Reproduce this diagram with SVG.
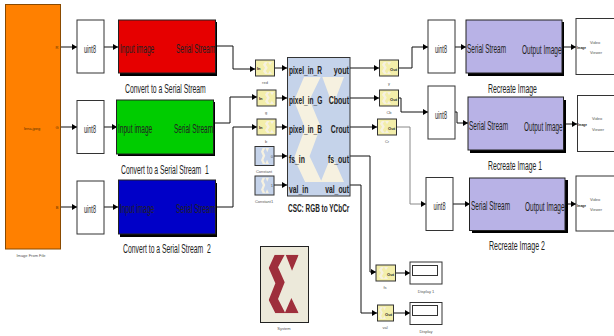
<svg xmlns="http://www.w3.org/2000/svg" width="614" height="336" viewBox="0 0 614 336">
<defs>
<marker id="a" markerWidth="6" markerHeight="6" refX="5" refY="3" orient="auto" markerUnits="userSpaceOnUse"><path d="M0 0L5 3L0 6Z" fill="#000"/></marker>
<symbol id="sig" viewBox="32 32 90 176" preserveAspectRatio="none"><path d="M32 72L50 32H80L60 70L80 115L60 165L82 208H52L32 168L52 118ZM83 32H122L102 80ZM80 208L100 162L122 208Z" fill="currentColor"/></symbol>
</defs>
<style>
text{font-family:"Liberation Sans",Arial,sans-serif;fill:#222}
use{color:#f6f1e0}
.b{fill:#fff;stroke:#333;stroke-width:1}
.s{fill:#000}
.c{fill:none;stroke:#111;stroke-width:1;marker-end:url(#a)}
.g{stroke:#888}
.y{fill:#f3eeaa;stroke:#333;stroke-width:1}
.k{fill:#c5d3ea;stroke:#333;stroke-width:1}
.t{font-size:12px}
.u{font-size:11px;text-anchor:middle}
.m{font-size:11px;font-weight:bold}
.e{text-anchor:end}
.p{font-size:4px;font-weight:bold}
.q{font-size:4px;fill:#555}
</style>
<g id="connectors">
<path class="c" d="M60 47H77"/><path class="c" d="M60 127H77"/><path class="c" d="M60 207H77"/>
<path class="c" d="M104 47H118"/><path class="c" d="M104 127H117"/><path class="c" d="M104 207H118"/>
<path class="c" d="M216 46H233V69H255"/><path class="c" d="M214 123H230V97H257"/><path class="c" d="M217 207H233V127H257"/>
<path class="c" d="M275 68H287"/><path class="c" d="M276 98H287"/><path class="c" d="M276 127H287"/><path class="c" d="M274 156H287"/><path class="c" d="M274 185H287"/>
<path class="c" d="M350 68H379"/><path class="c" d="M350 98H379"/><path class="c" d="M350 127H377"/>
<path class="c" d="M398 68H412V47H428"/><path class="c" d="M398 98H401V112H428"/><path class="c g" d="M397 127H410V204H426"/>
<path class="c" d="M455 47H466"/><path class="c" d="M455 112H457V123H468"/><path class="c" d="M453 204H470"/>
<path class="c" d="M562 47H576"/><path class="c" d="M563 124H577"/><path class="c" d="M565 204H576"/>
<path class="c" d="M350 156H370V272H376"/><path class="c" d="M350 185H361V313H377"/>
<path class="c" d="M396 273H410"/><path class="c" d="M394 313H410"/>
</g>
<g id="image-from-file">
<rect x="5.500" y="4.500" width="55" height="244.500" fill="#ff8000" stroke="#8a4a00" stroke-width="1"/>
<text class="q" x="32" y="130" text-anchor="middle" style="fill:#5a3000">lena.jpeg</text>
<text class="q" x="57" y="49" text-anchor="middle" style="fill:#5a3000">R</text>
<text class="q" x="57" y="129" text-anchor="middle" style="fill:#5a3000">G</text>
<text class="q" x="57" y="209" text-anchor="middle" style="fill:#5a3000">B</text>
<text class="q" x="31" y="257" text-anchor="middle">Image From File</text>
</g>
<g id="uint8-1"><rect class="b" x="77" y="20" width="27" height="53"/><text class="u" transform="translate(90 53) scale(.5 1)">uint8</text></g>
<g id="uint8-2"><rect class="b" x="77" y="100.500" width="27" height="53"/><text class="u" transform="translate(90 133) scale(.5 1)">uint8</text></g>
<g id="uint8-3"><rect class="b" x="77" y="181" width="27" height="53"/><text class="u" transform="translate(90 213) scale(.5 1)">uint8</text></g>
<g id="convert-1"><rect class="s" x="120" y="22" width="97" height="54"/><rect x="118.500" y="20" width="97" height="53" fill="#e60000" stroke="#222"/>
<text class="t" transform="translate(120 53) scale(.547 1)">Input image</text><text class="t" transform="translate(176 53) scale(.537 1)">Serial Stream</text>
<text class="t" transform="translate(125 93) scale(.572 1)">Convert to a Serial Stream</text></g>
<g id="convert-2"><rect class="s" x="118" y="102" width="97" height="54"/><rect x="116.500" y="100" width="97" height="54" fill="#00cc00" stroke="#222"/>
<text class="t" transform="translate(118 133) scale(.547 1)">Input image</text><text class="t" transform="translate(174 133) scale(.537 1)">Serial Stream</text>
<text class="t" transform="translate(121 174) scale(.568 1)" xml:space="preserve">Convert to a Serial Stream  1</text></g>
<g id="convert-3"><rect class="s" x="120" y="183" width="97" height="54"/><rect x="118.500" y="180" width="97" height="54" fill="#0000c8" stroke="#222"/>
<text class="t" transform="translate(120 213) scale(.547 1)">Input image</text><text class="t" transform="translate(176 213) scale(.537 1)">Serial Stream</text>
<text class="t" transform="translate(123 253) scale(.568 1)" xml:space="preserve">Convert to a Serial Stream  2</text></g>
<g id="in-r"><rect class="y" x="255.500" y="60" width="19" height="16"/><use href="#sig" x="263" y="62" width="9" height="12"/><text class="p" x="257" y="70">In</text><text class="q" x="265" y="84" text-anchor="middle">red</text></g>
<g id="in-g"><rect class="y" x="257" y="90" width="19" height="16"/><use href="#sig" x="265" y="92" width="9" height="12"/><text class="p" x="259" y="100">In</text><text class="q" x="266" y="114" text-anchor="middle">g</text></g>
<g id="in-b"><rect class="y" x="257" y="119" width="19" height="16"/><use href="#sig" x="265" y="121" width="9" height="12"/><text class="p" x="259" y="129">In</text><text class="q" x="266" y="143" text-anchor="middle">b</text></g>
<g id="constant"><rect class="k" x="255" y="146.500" width="19" height="19"/><use href="#sig" x="261" y="148" width="8" height="16"/><text class="q" x="273" y="158" text-anchor="end">0</text><text class="q" x="264" y="173" text-anchor="middle">Constant</text></g>
<g id="constant1"><rect class="k" x="255" y="176" width="19" height="19"/><use href="#sig" x="261" y="177.500" width="8" height="16"/><text class="q" x="273" y="187" text-anchor="end">1</text><text class="q" x="264" y="203" text-anchor="middle">Constant1</text></g>
<g id="csc"><rect class="k" x="287.500" y="57.500" width="62.500" height="138.500"/>
<use href="#sig" x="294" y="77" width="50" height="105"/>
<g class="m">
<text transform="translate(289 74) scale(.6 1)">pixel_in_R</text>
<text transform="translate(289 104) scale(.6 1)">pixel_in_G</text>
<text transform="translate(289 133) scale(.6 1)">pixel_in_B</text>
<text transform="translate(289 163) scale(.62 1)">fs_in</text>
<text transform="translate(289 193) scale(.62 1)">val_in</text>
<text class="e" transform="translate(349 74) scale(.66 1)">yout</text>
<text class="e" transform="translate(349 104) scale(.64 1)">Cbout</text>
<text class="e" transform="translate(349 133) scale(.62 1)">Crout</text>
<text class="e" transform="translate(349 163) scale(.64 1)">fs_out</text>
<text class="e" transform="translate(349 193) scale(.62 1)">val_out</text>
<text transform="translate(288 212) scale(.585 1)">CSC: RGB to YCbCr</text>
</g></g>
<g id="out-y"><rect class="y" x="379.500" y="60" width="19" height="16"/><use href="#sig" x="382" y="62" width="9" height="12"/><text class="p" x="397" y="71" text-anchor="end">Out</text><text class="q" x="389" y="85" text-anchor="middle">y</text></g>
<g id="out-cb"><rect class="y" x="379.500" y="90" width="19" height="16"/><use href="#sig" x="382" y="92" width="9" height="12"/><text class="p" x="397" y="101" text-anchor="end">Out</text><text class="q" x="389" y="114" text-anchor="middle">Cb</text></g>
<g id="out-cr"><rect class="y" x="377.500" y="119" width="19" height="16"/><use href="#sig" x="380" y="121" width="9" height="12"/><text class="p" x="395" y="130" text-anchor="end">Out</text><text class="q" x="387" y="143" text-anchor="middle">Cr</text></g>
<g id="uint8-4"><rect class="b" x="428" y="20" width="27" height="53"/><text class="u" transform="translate(441 53) scale(.5 1)">uint8</text></g>
<g id="uint8-5"><rect class="b" x="428" y="86" width="27" height="53"/><text class="u" transform="translate(441 119) scale(.5 1)">uint8</text></g>
<g id="uint8-6"><rect class="b" x="426" y="177.500" width="27" height="53"/><text class="u" transform="translate(439.500 210) scale(.5 1)">uint8</text></g>
<g id="recreate-1"><rect class="s" x="468" y="22" width="96" height="54"/><rect x="466" y="20" width="96" height="53" fill="#b8b2e6" stroke="#222"/>
<text class="t" transform="translate(467 53) scale(.537 1)">Serial Stream</text><text class="t" transform="translate(522 54) scale(.546 1)">Output Image</text>
<text class="t" transform="translate(488 93) scale(.574 1)">Recreate Image</text></g>
<g id="recreate-2"><rect class="s" x="470" y="100" width="96" height="53"/><rect x="468" y="97" width="95.500" height="53" fill="#b8b2e6" stroke="#222"/>
<text class="t" transform="translate(469 130) scale(.537 1)">Serial Stream</text><text class="t" transform="translate(524 131) scale(.532 1)">Output Image</text>
<text class="t" transform="translate(488 170) scale(.566 1)">Recreate Image 1</text></g>
<g id="recreate-3"><rect class="s" x="472" y="180" width="96" height="53"/><rect x="469.500" y="178" width="95.500" height="52.500" fill="#b8b2e6" stroke="#222"/>
<text class="t" transform="translate(471 210) scale(.537 1)">Serial Stream</text><text class="t" transform="translate(525 211) scale(.546 1)">Output Image</text>
<text class="t" transform="translate(489 250) scale(.587 1)">Recreate Image 2</text></g>
<g id="viewer-1"><rect class="b" x="576" y="18.500" width="40" height="56"/><text class="p" transform="translate(577 49) scale(.78 1)">Image</text><text class="q" x="590" y="44">Video</text><text class="q" x="590" y="54">Viewer</text></g>
<g id="viewer-2"><rect class="b" x="577.500" y="95.500" width="40" height="56"/><text class="p" transform="translate(578 126) scale(.78 1)">Image</text><text class="q" x="592" y="120">Video</text><text class="q" x="592" y="131">Viewer</text></g>
<g id="viewer-3"><rect class="b" x="576" y="176" width="40" height="55"/><text class="p" transform="translate(577 207) scale(.78 1)">Image</text><text class="q" x="590" y="201">Video</text><text class="q" x="590" y="211">Viewer</text></g>
<g id="system"><rect x="260.500" y="246.500" width="48" height="76" fill="#ece9da" stroke="#222"/>
<use href="#sig" x="268.700" y="254.700" width="30" height="58.600" style="color:#9e2f3c"/>
<text class="q" x="284" y="330" text-anchor="middle">System</text></g>
<g id="out-fs"><rect class="y" x="376" y="265" width="19.500" height="16"/><use href="#sig" x="379" y="267" width="9" height="12"/><text class="p" x="394" y="276" text-anchor="end">Out</text><text class="q" x="385" y="289" text-anchor="middle">fs</text></g>
<g id="out-val"><rect class="y" x="377.500" y="305" width="16" height="16"/><use href="#sig" x="379" y="307" width="7" height="12"/><text class="p" x="392" y="316" text-anchor="end">Out</text><text class="q" x="385" y="329" text-anchor="middle">val</text></g>
<g id="display1"><rect class="b" x="410" y="262" width="32" height="22"/><rect class="b" x="412.500" y="265.500" width="25" height="10"/><text class="q" x="426" y="293" text-anchor="middle">Display 1</text></g>
<g id="display"><rect class="b" x="410" y="302.500" width="32" height="22"/><rect class="b" x="412.500" y="305.500" width="25" height="10"/><text class="q" x="426" y="333" text-anchor="middle">Display</text></g>
</svg>
